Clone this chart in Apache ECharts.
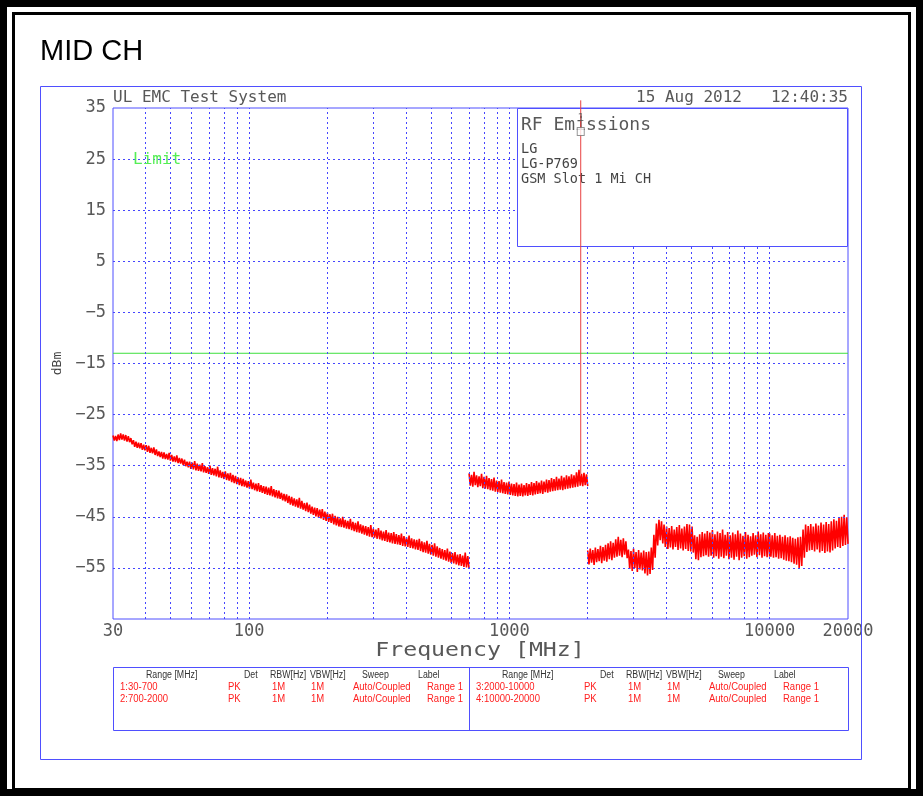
<!DOCTYPE html>
<html>
<head>
<meta charset="utf-8">
<title>MID CH</title>
<script src="https://cdn.jsdelivr.net/npm/echarts@6/dist/echarts.min.js"></script>
<style>
  html, body { margin: 0; padding: 0; background: #ffffff; }
  #chart { width: 923px; height: 796px; }
</style>
</head>
<body>
<div id="chart"></div>
<script>
// Sweep ranges [MHz]
const rangeStarts = [30, 700, 2000, 10000];
const rangeStops = [700, 2000, 10000, 20000];

// Peak-detector trace points (dBm), one sweep per range, in sweep order
const range1 = [
  -29.1,-30.1,-29.2,-30.2,-28.9,-30.0,-28.7,-29.9,-28.9,-30.1,-29.0,-30.3,-29.2,-30.4,-29.6,-30.8,-30.0,-31.3,-30.3,-31.5,
  -30.5,-31.6,-30.6,-31.9,-30.9,-32.0,-31.0,-32.3,-31.1,-32.5,-31.5,-32.6,-31.4,-32.9,-31.8,-33.1,-32.2,-33.3,-32.3,-33.6,
  -32.4,-33.7,-32.7,-33.8,-32.5,-34.0,-32.9,-34.2,-33.2,-34.3,-33.0,-34.5,-33.5,-34.6,-33.6,-34.9,-33.8,-35.1,-34.2,-35.3,
  -34.2,-35.6,-34.4,-35.7,-34.1,-35.9,-34.6,-36.0,-34.8,-36.1,-34.5,-36.3,-35.1,-36.4,-35.3,-36.6,-35.0,-36.8,-35.5,-36.9,
  -35.6,-37.1,-35.2,-37.3,-35.9,-37.4,-36.2,-37.6,-36.1,-37.8,-36.5,-37.9,-36.4,-38.2,-36.8,-38.4,-37.0,-38.6,-37.3,-38.8,
  -37.4,-39.0,-37.6,-39.1,-37.9,-39.3,-38.0,-39.5,-37.7,-39.6,-38.3,-39.8,-38.5,-40.0,-38.4,-40.1,-38.8,-40.3,-39.0,-40.5,
  -39.1,-40.7,-39.3,-40.8,-39.0,-41.0,-39.6,-41.2,-39.8,-41.4,-39.9,-41.5,-40.3,-41.8,-40.5,-42.0,-40.6,-42.3,-40.9,-42.6,
  -41.1,-42.8,-41.4,-43.0,-41.6,-43.2,-41.3,-43.4,-41.9,-43.6,-42.3,-43.9,-42.2,-44.1,-42.6,-44.4,-43.0,-44.6,-43.2,-44.9,
  -43.3,-45.1,-43.6,-45.3,-43.5,-45.6,-44.0,-45.8,-44.2,-46.0,-44.5,-46.2,-44.4,-46.5,-44.8,-46.7,-45.0,-46.9,-45.3,-47.0,
  -45.0,-47.1,-45.6,-47.3,-45.8,-47.4,-45.4,-47.6,-46.0,-47.8,-46.2,-48.0,-45.9,-48.1,-46.5,-48.3,-46.7,-48.5,-46.8,-48.7,
  -47.0,-48.9,-46.6,-49.0,-47.3,-49.1,-47.5,-49.3,-47.2,-49.4,-47.7,-49.6,-47.9,-49.7,-47.6,-49.9,-48.1,-50.0,-48.2,-50.2,
  -48.0,-50.3,-48.4,-50.4,-48.6,-50.5,-48.3,-50.7,-48.8,-50.8,-49.0,-50.9,-48.7,-51.1,-49.2,-51.2,-49.4,-51.4,-49.5,-51.5,
  -49.3,-51.7,-49.8,-51.9,-50.0,-52.0,-49.7,-52.2,-50.3,-52.4,-50.5,-52.6,-50.2,-52.8,-50.8,-53.0,-51.1,-53.2,-51.3,-53.4,
  -51.5,-53.6,-51.2,-53.8,-51.8,-54.0,-52.1,-54.1,-51.9,-54.3,-52.4,-54.5,-52.3,-54.6,-52.6,-54.8,-52.0,-54.9,-52.7,-55.1
];
const range2 = [
  -36.5,-38.9,-36.8,-39.1,-36.2,-38.8,-36.9,-39.2,-37.1,-39.0,-36.6,-39.4,-37.2,-39.5,-37.0,-39.6,
  -37.4,-39.8,-37.6,-39.9,-37.3,-40.1,-37.9,-40.2,-38.0,-40.3,-37.7,-40.4,-38.2,-40.5,-38.3,-40.6,
  -38.1,-40.7,-38.5,-40.8,-38.6,-40.9,-38.3,-41.0,-38.7,-40.9,-38.5,-41.0,-38.8,-40.8,-38.4,-40.9,
  -38.6,-40.7,-38.2,-40.8,-38.4,-40.6,-38.0,-40.5,-38.3,-40.4,-37.9,-40.5,-38.1,-40.2,-37.7,-40.3,
  -37.8,-40.1,-37.4,-40.0,-37.6,-39.9,-37.2,-39.8,-37.5,-39.7,-37.0,-39.8,-37.3,-39.6,-36.9,-39.5,
  -37.1,-39.4,-36.7,-39.3,-36.9,-39.2,-36.3,-39.1,-35.8,-38.9,-36.6,-39.0,-36.4,-38.8,-36.7,-39.0
];
const range3 = [
  -51.6,-54.3,-51.2,-54.0,-51.5,-54.4,-51.0,-53.9,-51.3,-53.7,-50.7,-54.1,-50.9,-53.6,-50.5,-53.8,
  -50.2,-53.3,-49.8,-53.5,-50.1,-53.0,-49.4,-52.8,-48.9,-52.6,-49.5,-52.9,-49.2,-52.4,-49.8,-53.1,
  -51.4,-55.2,-51.7,-55.6,-51.2,-55.0,-51.9,-55.8,-51.5,-55.3,-52.0,-55.5,-51.6,-56.1,-51.9,-56.5,
  -51.8,-56.2,-51.0,-55.4,-48.5,-53.0,-46.3,-50.6,-45.6,-49.6,-45.9,-50.2,-46.5,-50.9,-46.9,-51.3,
  -47.2,-51.0,-46.8,-51.4,-47.5,-50.9,-47.0,-51.5,-46.6,-51.2,-47.3,-51.6,-46.9,-51.3,-46.4,-51.7,
  -46.5,-51.8,-46.9,-52.0,-48.6,-53.3,-48.9,-53.5,-48.4,-52.9,-48.0,-52.7,-48.3,-52.5,-47.8,-52.8,
  -48.1,-52.6,-47.6,-53.0,-48.4,-52.7,-47.9,-53.2,-48.2,-52.8,-47.5,-53.1,-48.5,-52.6,-48.0,-53.3,
  -48.6,-53.0,-48.1,-53.4,-48.4,-52.8,-47.7,-53.5,-48.3,-53.0,-48.7,-52.7,-48.0,-53.2,-48.5,-52.9,
  -48.8,-52.6,-48.2,-52.4,-48.6,-52.9,-47.9,-52.5,-48.4,-53.0,-48.1,-52.7,-48.5,-52.9,-48.2,-52.8
];
const range4 = [
  -48.3,-52.8,-48.6,-53.0,-48.2,-52.9,-48.7,-53.2,-48.5,-53.1,-48.9,-53.4,-48.6,-53.6,-49.0,-53.7,
  -48.8,-53.9,-49.1,-54.2,-49.3,-54.4,-49.0,-55.0,-48.9,-54.6,-47.5,-53.0,-46.5,-51.9,-46.8,-51.6,
  -46.4,-51.5,-46.9,-51.8,-46.3,-51.4,-46.7,-52.0,-46.1,-51.7,-46.5,-52.1,-46.0,-51.8,-46.4,-52.0,
  -45.9,-51.6,-45.5,-51.2,-45.8,-50.9,-45.2,-51.1,-45.0,-50.7,-44.6,-50.5,-45.1,-50.3
];

// Limit and marker
const limitDbm = -13;
const markerFreq = 1880;
const markerLevel = -36.6;
const markerTagLevel = 30.4;

// Axes and grid
const yMin = -65, yMax = 35;
const yTicks = [-55, -45, -35, -25, -15, -5, 5, 15, 25, 35];
const yGrid = [-55, -45, -35, -25, -15, -5, 5, 15, 25];
const xMin = 30, xMax = 20000;
const xGrid = [40, 50, 60, 70, 80, 90, 100, 200, 300, 400, 500, 600, 700, 800, 900,
               1000, 2000, 3000, 4000, 5000, 6000, 7000, 8000, 9000, 10000];

// Setup table
const tableHeader = ['Range [MHz]', 'Det', 'RBW[Hz]', 'VBW[Hz]', 'Sweep', 'Label'];
const tableRanges = ['1:30-700', '2:700-2000', '3:2000-10000', '4:10000-20000'];
const tableDet = ['PK', 'PK', 'PK', 'PK'];
const tableRbw = ['1M', '1M', '1M', '1M'];
const tableVbw = ['1M', '1M', '1M', '1M'];
const tableSweep = ['Auto/Coupled', 'Auto/Coupled', 'Auto/Coupled', 'Auto/Coupled'];
const tableLabel = ['Range 1', 'Range 1', 'Range 1', 'Range 1'];

// Text
const titleText = 'MID CH';
const systemText = 'UL EMC Test System';
const dateText = '15 Aug 2012';
const timeText = '12:40:35';
const boxTitle = 'RF Emissions';
const boxLines = ['LG', 'LG-P769', 'GSM Slot 1 Mi CH'];
const xName = 'Frequency [MHz]';
const yName = 'dBm';

const MONO = '"DejaVu Sans Mono", "Liberation Mono", monospace';
const SANS = '"Liberation Sans", Arial, sans-serif';
const BLUE = '#4f4fff';
const GRID_BLUE = '#4646ff';
const TRACE_RED = '#ff0000';
const GREEN = '#3ee03e';
const GRAY = '#585858';

// Logarithmically spaced sweep points between start and stop
function sweep(start, stop, n) {
  const a = Math.log10(start), b = Math.log10(stop);
  const out = [];
  for (let i = 0; i < n; i++) out.push(Math.pow(10, a + (b - a) * i / (n - 1)));
  return out;
}

const traces = [range1, range2, range3, range4].map((vals, k) => {
  const f = sweep(rangeStarts[k], rangeStops[k], vals.length);
  return vals.map((v, i) => [f[i], v]);
});

const chart = echarts.init(document.getElementById('chart'), null, { renderer: 'canvas' });

const gridLeft = 113, gridTop = 108, gridRight = 75, gridBottom = 177;

// Table text elements
const tableEls = [];
const colX = [146, 244, 270, 310, 362, 418];
const rowColX = [120, 228, 272, 311, 353, 427];
const halfShift = 356;
[0, 1].forEach(h => {
  tableHeader.forEach((t, c) => {
    tableEls.push({ type: 'text', x: colX[c] + h * halfShift, y: 675, z: 20, scaleX: 0.88,
      style: { text: t, fill: '#333', font: '10px ' + SANS, verticalAlign: 'middle' } });
  });
  [0, 1].forEach(r => {
    const idx = h * 2 + r;
    const cells = [tableRanges[idx], tableDet[idx], tableRbw[idx], tableVbw[idx], tableSweep[idx], tableLabel[idx]];
    cells.forEach((t, c) => {
      tableEls.push({ type: 'text', x: rowColX[c] + h * halfShift, y: 687 + r * 12, z: 20, scaleX: 0.95,
        style: { text: t, fill: '#ff2020', font: '10px ' + SANS, verticalAlign: 'middle' } });
    });
  });
});

const option = {
  backgroundColor: '#ffffff',
  animation: false,
  grid: {
    left: gridLeft, top: gridTop, right: gridRight, bottom: gridBottom,
    show: true, borderColor: BLUE, borderWidth: 1, backgroundColor: 'transparent'
  },
  xAxis: {
    type: 'log', logBase: 10, min: xMin, max: xMax,
    axisLine: { show: false }, axisTick: { show: false },
    splitLine: { show: false }, minorSplitLine: { show: false },
    axisLabel: {
      margin: 4, fontFamily: MONO, fontSize: 17, color: GRAY,
      showMinLabel: true, showMaxLabel: true,
      formatter: v => String(Math.round(v))
    }
  },
  yAxis: {
    type: 'value', min: yMin, max: yMax,
    name: yName, nameLocation: 'middle', nameRotate: 90, nameGap: 41,
    nameTextStyle: { fontFamily: MONO, fontSize: 13, color: '#444' },
    axisLine: { show: false }, axisTick: { show: false, customValues: yTicks },
    splitLine: { show: false },
    axisLabel: {
      customValues: yTicks, margin: 7, fontFamily: MONO, fontSize: 17, color: GRAY,
      formatter: v => String(v).replace('-', '\u2212')
    }
  },
  graphic: [
    // outer black frame
    { type: 'rect', z: 1, shape: { x: 0, y: 0, width: 923, height: 796 },
      style: { fill: 'none', stroke: '#000', lineWidth: 14 } },
    { type: 'rect', z: 1, shape: { x: 13.5, y: 13.5, width: 896, height: 776 },
      style: { fill: 'none', stroke: '#000', lineWidth: 3 } },
    { type: 'text', x: 40, y: 52, z: 20,
      style: { text: titleText, fill: '#000', font: '29px ' + SANS, verticalAlign: 'middle' } },
    // blue plot frame
    { type: 'rect', z: 1, shape: { x: 40.5, y: 86.5, width: 821, height: 673 },
      style: { fill: 'none', stroke: BLUE, lineWidth: 1 } },
    { type: 'text', x: 113, y: 98, z: 20,
      style: { text: systemText, fill: GRAY, font: '16px ' + MONO, verticalAlign: 'middle' } },
    { type: 'text', x: 636, y: 98, z: 20,
      style: { text: dateText, fill: GRAY, font: '16px ' + MONO, verticalAlign: 'middle' } },
    { type: 'text', x: 848, y: 98, z: 20,
      style: { text: timeText, fill: GRAY, font: '16px ' + MONO, verticalAlign: 'middle', align: 'right' } },
    // axis title
    { type: 'text', x: 480, y: 651, z: 20, scaleX: 1.16,
      style: { text: xName, fill: GRAY, font: '20px ' + MONO, verticalAlign: 'middle', align: 'center' } },
    // info box
    { type: 'rect', z: 50, shape: { x: 517.5, y: 108.5, width: 330, height: 138 },
      style: { fill: '#ffffff', stroke: BLUE, lineWidth: 1 } },
    { type: 'text', x: 521, y: 125, z: 51,
      style: { text: boxTitle, fill: GRAY, font: '18px ' + MONO, verticalAlign: 'middle' } },
    ...boxLines.map((t, i) => ({ type: 'text', x: 521, y: 149 + i * 15, z: 51,
      style: { text: t, fill: '#444', font: '13.5px ' + MONO, verticalAlign: 'middle' } })),
    { type: 'text', x: 133, y: 160, z: 20,
      style: { text: 'Limit', fill: '#55ee55', font: '16px ' + MONO, verticalAlign: 'middle' } },
    // setup table
    { type: 'rect', z: 1, shape: { x: 113.5, y: 667.5, width: 735, height: 63 },
      style: { fill: 'none', stroke: BLUE, lineWidth: 1 } },
    { type: 'line', z: 1, shape: { x1: 469.5, y1: 667.5, x2: 469.5, y2: 730.5 },
      style: { stroke: BLUE, lineWidth: 1 } },
    ...tableEls
  ],
  series: [
    {
      // dotted measurement grid
      type: 'line', data: [], silent: true, z: 1,
      markLine: {
        silent: true, symbol: 'none', label: { show: false },
        lineStyle: { color: GRID_BLUE, type: [2, 3], width: 1 },
        data: [
          ...xGrid.map(v => ({ xAxis: v })),
          ...yGrid.map(v => ({ yAxis: v }))
        ]
      }
    },
    {
      name: 'Limit', type: 'line', z: 3, symbol: 'none', silent: true,
      lineStyle: { color: GREEN, width: 1 },
      data: [[xMin, limitDbm], [xMax, limitDbm]]
    },
    ...traces.map((d, k) => ({
      name: 'Range ' + (k + 1), type: 'line', z: 4, symbol: 'none', silent: true,
      sampling: false, lineStyle: { color: TRACE_RED, width: 1.6, join: 'bevel' }, data: d
    })),
    {
      name: 'Marker', type: 'line', z: 60, symbol: 'none', silent: true, clip: false,
      lineStyle: { color: '#e84040', width: 1 },
      data: [[markerFreq, yMax + 1.5], [markerFreq, markerLevel]]
    },
    {
      name: 'Marker tag', type: 'scatter', z: 61, silent: true, clip: false,
      symbol: 'rect', symbolSize: [7, 8],
      itemStyle: { color: '#ffffff', borderColor: '#777', borderWidth: 1 },
      label: { show: true, position: 'top', distance: 3, formatter: '1',
        fontFamily: MONO, fontSize: 11, color: '#555' },
      data: [[markerFreq, markerTagLevel]]
    }
  ]
};

chart.setOption(option);
</script>
</body>
</html>
